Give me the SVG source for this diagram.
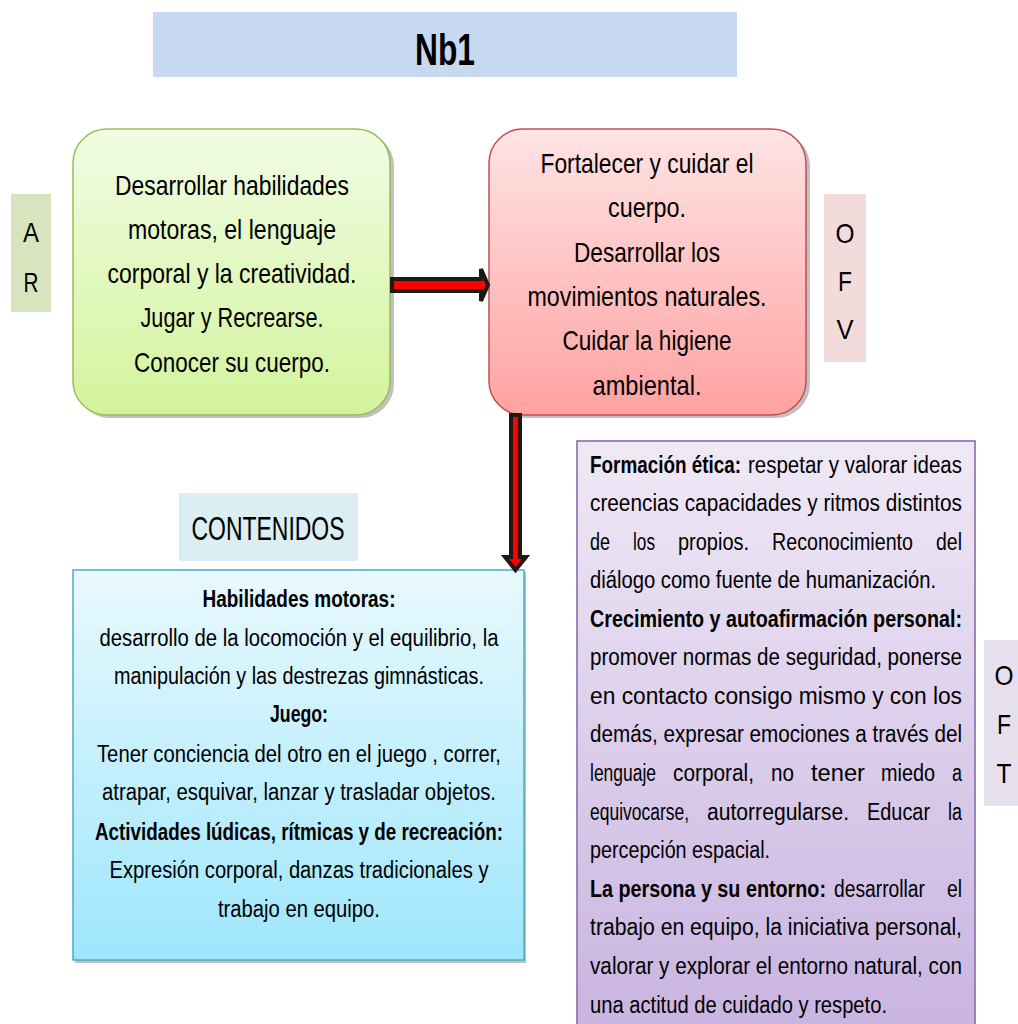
<svg xmlns="http://www.w3.org/2000/svg" width="1018" height="1024" viewBox="0 0 1018 1024">
<defs>
<linearGradient id="gGreen" x1="0" y1="0" x2="0" y2="1"><stop offset="0" stop-color="#f1fce4"/><stop offset="1" stop-color="#d3f49c"/></linearGradient>
<linearGradient id="gRed" x1="0" y1="0" x2="0" y2="1"><stop offset="0" stop-color="#ffe4e4"/><stop offset="1" stop-color="#ffa2a2"/></linearGradient>
<linearGradient id="gBlue" x1="0" y1="0" x2="0" y2="1"><stop offset="0" stop-color="#e9f9fe"/><stop offset="1" stop-color="#9ee6fc"/></linearGradient>
<linearGradient id="gPurple" x1="0" y1="0" x2="0" y2="1"><stop offset="0" stop-color="#efe9f6"/><stop offset="1" stop-color="#c8b3e0"/></linearGradient>
</defs>
<style>
text{font-family:"Liberation Sans",Arial,sans-serif;fill:#000}
.c{text-anchor:middle}
.big{font-size:28px}
.mid{font-size:23px}
.b{font-weight:bold}
.shadow{fill:#8c8c8c;opacity:0.55}
.conn{fill:#ff0000;stroke:#1d1b10;stroke-width:4;stroke-linejoin:miter}
</style>
<rect width="1018" height="1024" fill="#ffffff"/>

<g id="title">
<rect x="153" y="12" width="584" height="65" fill="#c6d9f1"/>
<text x="445" y="65" class="c b" font-size="44" textLength="60" lengthAdjust="spacingAndGlyphs">Nb1</text>
</g>

<g id="label-AR">
<rect x="11" y="194" width="40" height="118" fill="#d7e4bd"/>
<text x="31" y="242" class="c big" textLength="16" lengthAdjust="spacingAndGlyphs">A</text>
<text x="31" y="292" class="c big" textLength="15" lengthAdjust="spacingAndGlyphs">R</text>
</g>

<g id="node-AR">
<rect x="76" y="132" width="318" height="286" rx="34" class="shadow"/>
<rect x="73" y="129" width="317" height="286" rx="34" fill="url(#gGreen)" stroke="#9bbb59" stroke-width="1.5"/>
<text x="232" y="195" class="c big" textLength="234" lengthAdjust="spacingAndGlyphs">Desarrollar habilidades</text>
<text x="232" y="239" class="c big" textLength="208" lengthAdjust="spacingAndGlyphs">motoras, el lenguaje</text>
<text x="232" y="283" class="c big" textLength="249" lengthAdjust="spacingAndGlyphs">corporal y la creatividad.</text>
<text x="232" y="327" class="c big" textLength="183" lengthAdjust="spacingAndGlyphs">Jugar y Recrearse.</text>
<text x="232" y="372" class="c big" textLength="196" lengthAdjust="spacingAndGlyphs">Conocer su cuerpo.</text>
</g>

<g id="node-OFV">
<rect x="492" y="132" width="318" height="286" rx="34" class="shadow"/>
<rect x="489" y="129" width="317" height="286" rx="34" fill="url(#gRed)" stroke="#c0504d" stroke-width="1.5"/>
<text x="647" y="173" class="c big" textLength="213" lengthAdjust="spacingAndGlyphs">Fortalecer y cuidar el</text>
<text x="647" y="217" class="c big" textLength="78" lengthAdjust="spacingAndGlyphs">cuerpo.</text>
<text x="647" y="262" class="c big" textLength="146" lengthAdjust="spacingAndGlyphs">Desarrollar los</text>
<text x="647" y="306" class="c big" textLength="239" lengthAdjust="spacingAndGlyphs">movimientos naturales.</text>
<text x="647" y="350" class="c big" textLength="169" lengthAdjust="spacingAndGlyphs">Cuidar la higiene</text>
<text x="647" y="395" class="c big" textLength="109" lengthAdjust="spacingAndGlyphs">ambiental.</text>
</g>

<g id="label-OFV">
<rect x="824" y="194" width="42" height="168" fill="#f2dcdb"/>
<text x="845" y="243" class="c big" textLength="19" lengthAdjust="spacingAndGlyphs">O</text>
<text x="845" y="291" class="c big" textLength="14" lengthAdjust="spacingAndGlyphs">F</text>
<text x="845" y="339" class="c big" textLength="17" lengthAdjust="spacingAndGlyphs">V</text>
</g>

<g id="label-contenidos">
<rect x="179" y="493" width="179" height="68" fill="#dbeef3"/>
<text x="268" y="540" class="c" font-size="33" textLength="153" lengthAdjust="spacingAndGlyphs">CONTENIDOS</text>
</g>

<g id="node-contenidos">
<rect x="75" y="572" width="451" height="391" class="shadow"/>
<rect x="73" y="570" width="451" height="390" fill="url(#gBlue)" stroke="#4bacc6" stroke-width="1.5"/>
<text x="299" y="607" class="c mid b" textLength="193" lengthAdjust="spacingAndGlyphs">Habilidades motoras:</text>
<text x="299" y="646" class="c mid" textLength="399" lengthAdjust="spacingAndGlyphs">desarrollo de la locomoción y el equilibrio, la</text>
<text x="299" y="684" class="c mid" textLength="370" lengthAdjust="spacingAndGlyphs">manipulación y las destrezas gimnásticas.</text>
<text x="299" y="722" class="c mid b" textLength="58" lengthAdjust="spacingAndGlyphs">Juego:</text>
<text x="299" y="762" class="c mid" textLength="404" lengthAdjust="spacingAndGlyphs">Tener conciencia del otro en el juego , correr,</text>
<text x="299" y="800" class="c mid" textLength="394" lengthAdjust="spacingAndGlyphs">atrapar, esquivar, lanzar y trasladar objetos.</text>
<text x="299" y="840" class="c mid b" textLength="408" lengthAdjust="spacingAndGlyphs">Actividades lúdicas, rítmicas y de recreación:</text>
<text x="299" y="878" class="c mid" textLength="379" lengthAdjust="spacingAndGlyphs">Expresión corporal,  danzas tradicionales y</text>
<text x="299" y="917" class="c mid" textLength="162" lengthAdjust="spacingAndGlyphs">trabajo en equipo.</text>
</g>

<g id="node-OFT">
<rect x="577" y="441" width="398" height="600" fill="url(#gPurple)" stroke="#8064a2" stroke-width="1.5"/>
<text x="590" y="473" class="mid b" textLength="151" lengthAdjust="spacingAndGlyphs">Formación ética:</text>
<text x="748" y="473" class="mid" textLength="214" lengthAdjust="spacingAndGlyphs">respetar y valorar ideas</text>
<text x="590" y="511" class="mid" textLength="372" lengthAdjust="spacingAndGlyphs">creencias capacidades y ritmos distintos</text>
<text x="590" y="550" class="mid" textLength="20" lengthAdjust="spacingAndGlyphs">de</text>
<text x="633" y="550" class="mid" textLength="22" lengthAdjust="spacingAndGlyphs">los</text>
<text x="678" y="550" class="mid" textLength="71" lengthAdjust="spacingAndGlyphs">propios.</text>
<text x="772" y="550" class="mid" textLength="141" lengthAdjust="spacingAndGlyphs">Reconocimiento</text>
<text x="936" y="550" class="mid" textLength="26" lengthAdjust="spacingAndGlyphs">del</text>
<text x="590" y="588" class="mid" textLength="346" lengthAdjust="spacingAndGlyphs">diálogo como fuente de humanización.</text>
<text x="590" y="627" class="mid b" textLength="372" lengthAdjust="spacingAndGlyphs">Crecimiento y autoafirmación personal:</text>
<text x="590" y="665" class="mid" textLength="372" lengthAdjust="spacingAndGlyphs">promover normas de seguridad, ponerse</text>
<text x="590" y="704" class="mid" textLength="372" lengthAdjust="spacingAndGlyphs">en contacto consigo mismo y con los</text>
<text x="590" y="742" class="mid" textLength="372" lengthAdjust="spacingAndGlyphs">demás, expresar emociones a través del</text>
<text x="590" y="781" class="mid" textLength="66" lengthAdjust="spacingAndGlyphs">lenguaje</text>
<text x="673" y="781" class="mid" textLength="81" lengthAdjust="spacingAndGlyphs">corporal,</text>
<text x="771" y="781" class="mid" textLength="23" lengthAdjust="spacingAndGlyphs">no</text>
<text x="811" y="781" class="mid" textLength="54" lengthAdjust="spacingAndGlyphs">tener</text>
<text x="881" y="781" class="mid" textLength="54" lengthAdjust="spacingAndGlyphs">miedo</text>
<text x="952" y="781" class="mid" textLength="10" lengthAdjust="spacingAndGlyphs">a</text>
<text x="590" y="820" class="mid" textLength="99" lengthAdjust="spacingAndGlyphs">equivocarse,</text>
<text x="707" y="820" class="mid" textLength="142" lengthAdjust="spacingAndGlyphs">autorregularse.</text>
<text x="867" y="820" class="mid" textLength="63" lengthAdjust="spacingAndGlyphs">Educar</text>
<text x="948" y="820" class="mid" textLength="14" lengthAdjust="spacingAndGlyphs">la</text>
<text x="590" y="858" class="mid" textLength="180" lengthAdjust="spacingAndGlyphs">percepción espacial.</text>
<text x="590" y="897" class="mid b" textLength="236" lengthAdjust="spacingAndGlyphs">La persona y su entorno:</text>
<text x="834" y="897" class="mid" textLength="91" lengthAdjust="spacingAndGlyphs">desarrollar</text>
<text x="947" y="897" class="mid" textLength="15" lengthAdjust="spacingAndGlyphs">el</text>
<text x="590" y="935" class="mid" textLength="372" lengthAdjust="spacingAndGlyphs">trabajo en equipo, la iniciativa personal,</text>
<text x="590" y="974" class="mid" textLength="372" lengthAdjust="spacingAndGlyphs">valorar  y explorar el entorno natural, con</text>
<text x="590" y="1013" class="mid" textLength="297" lengthAdjust="spacingAndGlyphs">una actitud de cuidado y respeto.</text>
</g>

<g id="label-OFT">
<rect x="984" y="640" width="34" height="166" fill="#e5e0ec"/>
<text x="1004" y="685" class="c big" textLength="19" lengthAdjust="spacingAndGlyphs">O</text>
<text x="1004" y="734" class="c big" textLength="14" lengthAdjust="spacingAndGlyphs">F</text>
<text x="1004" y="783" class="c big" textLength="15" lengthAdjust="spacingAndGlyphs">T</text>
</g>

<g id="connectors">
<polygon class="conn" points="392,279 481,279 481,269 488,285 481,301 481,291 392,291"/>
<polygon class="conn" points="511,415 520,415 520,557 526,557 515.5,570 505,557 511,557"/>
</g>
</svg>
